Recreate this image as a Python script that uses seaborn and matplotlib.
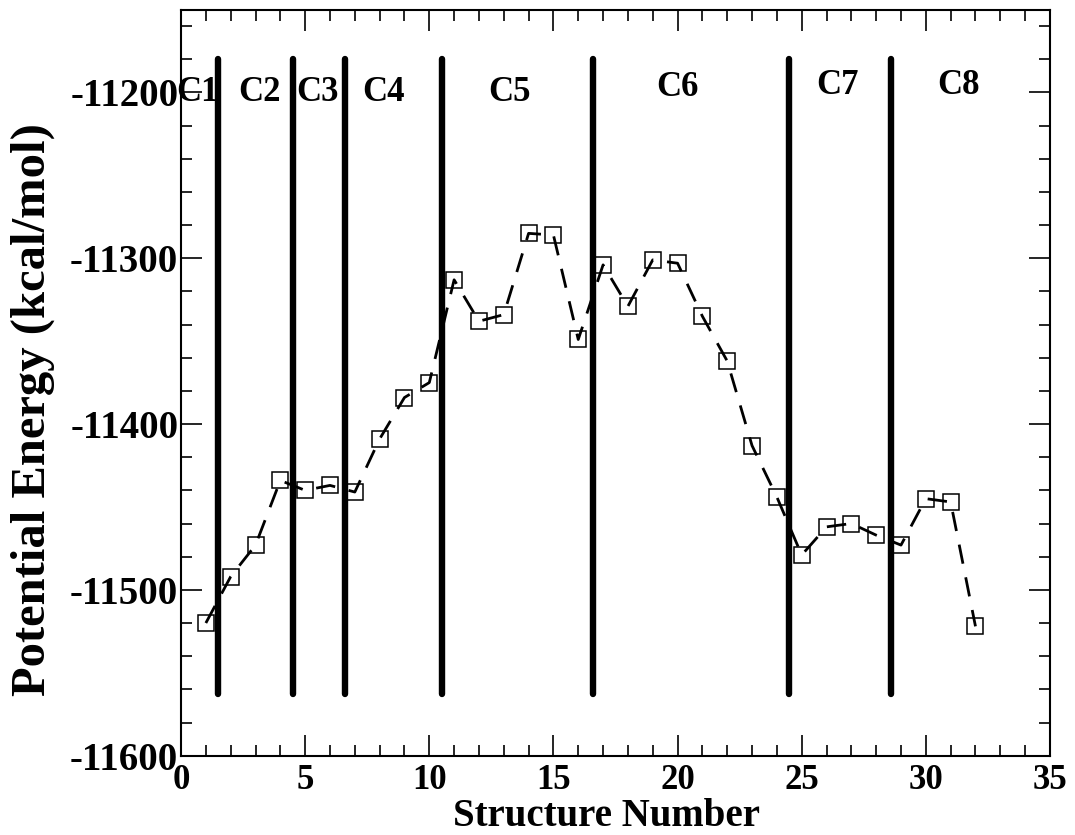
import numpy as np
import pandas as pd
import matplotlib
matplotlib.use('Agg')
import matplotlib.pyplot as plt
from matplotlib.ticker import MultipleLocator
import seaborn as sns

# structure number vs potential energy (kcal/mol)
structures = list(range(1, 33))
energies = [-11520, -11492, -11473, -11434, -11440, -11437, -11441, -11409,
            -11384, -11375, -11313, -11338, -11334, -11285, -11286, -11349,
            -11304, -11329, -11301, -11303, -11335, -11362, -11413, -11444,
            -11479, -11462, -11460, -11467, -11473, -11445, -11447, -11522]

# cluster boundaries and labels
boundaries = [1.5, 4.5, 6.6, 10.5, 16.6, 24.5, 28.6]
boundary_top = -11180
boundary_bottom = -11563
cluster_names = ['C1', 'C2', 'C3', 'C4', 'C5', 'C6', 'C7', 'C8']
cluster_x = [0.65, 3.18, 5.5, 8.15, 13.25, 20.0, 26.45, 31.3]
cluster_y = [-11200, -11200, -11200, -11200, -11200, -11197, -11196, -11196]

sns.set_style('ticks')
plt.rcParams['font.family'] = ['Liberation Serif', 'DejaVu Serif']
plt.rcParams['font.weight'] = 'bold'
plt.rcParams['axes.unicode_minus'] = False
for key in ['text.color', 'axes.labelcolor', 'xtick.color', 'ytick.color', 'axes.edgecolor']:
    plt.rcParams[key] = 'black'

df = pd.DataFrame({'Structure Number': structures, 'Energy': energies})

fig = plt.figure(figsize=(10.75, 8.35), dpi=100)
ax = fig.add_axes([0.1684, 0.095, 0.8083, 0.8936])

sns.lineplot(data=df, x='Structure Number', y='Energy', ax=ax, color='black',
             linestyle='--', linewidth=2, marker='s', markersize=12,
             markerfacecolor='none', markeredgecolor='black', markeredgewidth=1.1)
ax.lines[0].set_dashes([7, 5])

for xb in boundaries:
    ax.plot([xb, xb], [boundary_bottom, boundary_top], color='black',
            linewidth=4.6, solid_capstyle='round')

for name, cx, cy in zip(cluster_names, cluster_x, cluster_y):
    ax.text(cx, cy, name, ha='center', va='center', fontsize=25, fontweight='bold')

ax.set_xlim(0, 35)
ax.set_ylim(-11600, -11150)
ax.xaxis.set_major_locator(MultipleLocator(5))
ax.xaxis.set_minor_locator(MultipleLocator(1))
ax.set_yticks([-11600, -11500, -11400, -11300, -11200])
ax.yaxis.set_minor_locator(MultipleLocator(20))

ax.tick_params(which='both', direction='in', top=True, right=True, width=1.2)
ax.tick_params(which='major', length=15)
ax.tick_params(which='minor', length=8)
ax.tick_params(axis='x', labelsize=25, pad=6)
ax.tick_params(axis='y', labelsize=28, pad=2)
for lab in ax.get_xticklabels() + ax.get_yticklabels():
    lab.set_fontweight('bold')
for sp in ax.spines.values():
    sp.set_linewidth(1.5)
    sp.set_visible(True)

ax.set_xlabel('Structure Number', fontsize=28, fontweight='bold')
ax.xaxis.set_label_coords(0.49, -0.057)
ax.set_ylabel('Potential Energy (kcal/mol)', fontsize=35, fontweight='bold')
ax.yaxis.set_label_coords(-0.145, 0.4636)

fig.savefig('out.png', dpi=100)
